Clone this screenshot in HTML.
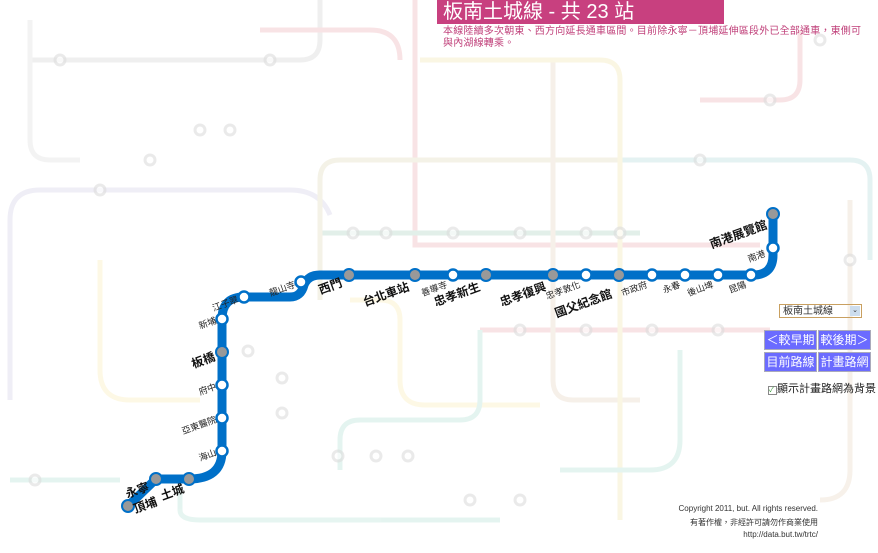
<!DOCTYPE html>
<html><head><meta charset="utf-8"><style>
body{margin:0;width:878px;height:553px;overflow:hidden;background:#fff;font-family:"Liberation Sans","Noto Sans CJK TC",sans-serif;position:relative}
.t{position:absolute;left:437px;top:0;width:287px;height:24px;background:#c8407f;color:#fff;font-size:20px;line-height:24px;padding-left:6px;box-sizing:border-box}
.s{position:absolute;left:443px;top:26px;width:428px;font-size:10px;line-height:12px;color:#c0407a;letter-spacing:0.2px}
.b{position:absolute;background:#6b6bff;color:#fff;font-size:12px;line-height:18px;height:18px;width:51px;text-align:center;border:1px solid #aab}
.sel{position:absolute;left:779px;top:304px;width:83px;height:14px;border:1px solid #c9a060;font-size:10px;line-height:14px;color:#333;padding-left:3px;box-sizing:border-box}
.cp{position:absolute;right:60px;font-size:8px;color:#333;text-align:right}
</style></head><body>
<svg width="878" height="553" style="position:absolute;left:0;top:0" font-family="Liberation Sans,Noto Sans CJK TC,sans-serif">
<g fill="none" stroke-width="5" opacity="0.13">
<path d="M415 0V245H760" stroke="#d03040"/>
<path d="M320 233H640" stroke="#2a8a60"/>
<path d="M480 330H770" stroke="#d03040"/>
<path d="M320 0V40Q320 60 300 60H30" stroke="#888"/>
<path d="M10 400V220Q10 190 40 190H290Q320 190 330 215" stroke="#8880c0"/>
<path d="M320 300V180Q320 160 340 160H620" stroke="#b0a050"/>
<path d="M620 160H850Q870 160 870 180V260" stroke="#3aa0a0"/>
<path d="M553 60V380Q553 400 573 400H640" stroke="#c09060"/>
<path d="M420 60H600Q620 60 620 80V520" stroke="#e0c030"/>
<path d="M350 300H380Q400 300 400 320V380Q400 405 425 405H540" stroke="#f0d040"/>
<path d="M480 330V400Q480 420 460 420H360Q340 420 340 440V470" stroke="#3ab090"/>
<path d="M10 480H120" stroke="#3ab090"/>
<path d="M180 490V510Q180 520 200 520H500" stroke="#3ab090"/>
<path d="M100 260V370Q100 400 130 400H200" stroke="#f0d040"/>
<path d="M700 100H780Q800 100 800 80V30" stroke="#d03040"/>
<path d="M850 200V470Q850 500 820 500" stroke="#c09060"/>
<path d="M680 350V440Q680 470 650 470H560" stroke="#3ab090"/>
<path d="M30 20V140Q30 160 50 160H80" stroke="#aaa"/>
<path d="M400 60Q400 30 370 30H260" stroke="#d03040"/>
</g>
<g fill="#fff" stroke="#ddd" stroke-width="3" opacity="0.6">
<circle cx="353" cy="233" r="5"/><circle cx="386" cy="233" r="5"/><circle cx="453" cy="233" r="5"/><circle cx="520" cy="233" r="5"/><circle cx="586" cy="233" r="5"/><circle cx="620" cy="233" r="5"/>
<circle cx="520" cy="330" r="5"/><circle cx="586" cy="330" r="5"/><circle cx="652" cy="330" r="5"/><circle cx="718" cy="330" r="5"/>
<circle cx="248" cy="351" r="5"/><circle cx="282" cy="378" r="5"/><circle cx="282" cy="413" r="5"/><circle cx="338" cy="456" r="5"/><circle cx="376" cy="456" r="5"/><circle cx="408" cy="456" r="5"/>
<circle cx="200" cy="130" r="5"/><circle cx="230" cy="130" r="5"/><circle cx="270" cy="60" r="5"/><circle cx="60" cy="60" r="5"/><circle cx="100" cy="190" r="5"/><circle cx="150" cy="160" r="5"/>
<circle cx="700" cy="160" r="5"/><circle cx="770" cy="100" r="5"/><circle cx="820" cy="40" r="5"/><circle cx="850" cy="260" r="5"/><circle cx="35" cy="480" r="5"/><circle cx="470" cy="500" r="5"/><circle cx="520" cy="500" r="5"/>
</g>
<path d="M128 506L156 479H189Q222 479 222 451V319Q222 297 244 297H290Q301 297 304 285Q308 275 320 275H753Q773 275 773 255V214" fill="none" stroke="#0070c8" stroke-width="9" stroke-linejoin="round"/>
<g stroke="#0070c8" stroke-width="2.5" fill="#fff">
<circle cx="222" cy="451" r="5.5"/><circle cx="222" cy="418" r="5.5"/><circle cx="222" cy="385" r="5.5"/><circle cx="222" cy="319" r="5.5"/><circle cx="244" cy="297" r="5.5"/><circle cx="301" cy="282" r="5.5"/><circle cx="453" cy="275" r="5.5"/><circle cx="586" cy="275" r="5.5"/><circle cx="652" cy="275" r="5.5"/><circle cx="685" cy="275" r="5.5"/><circle cx="718" cy="275" r="5.5"/><circle cx="751" cy="275" r="5.5"/><circle cx="773" cy="248" r="5.5"/>
</g>
<g stroke="#0070c8" stroke-width="2" fill="#999">
<circle cx="128" cy="506" r="6"/><circle cx="156" cy="479" r="6"/><circle cx="189" cy="479" r="6"/><circle cx="222" cy="352" r="6"/><circle cx="349" cy="275" r="6"/><circle cx="415" cy="275" r="6"/><circle cx="486" cy="275" r="6"/><circle cx="553" cy="275" r="6"/><circle cx="619" cy="275" r="6"/><circle cx="773" cy="214" r="6"/>
</g>
<g fill="#222" text-anchor="end" font-size="9">
<text transform="translate(217,455) rotate(-20)">海山</text>
<text transform="translate(217,422) rotate(-20)">亞東醫院</text>
<text transform="translate(217,389) rotate(-20)">府中</text>
<text transform="translate(217,323) rotate(-20)">新埔</text>
<text transform="translate(239,302) rotate(-20)">江子翠</text>
<text transform="translate(296,287) rotate(-20)">龍山寺</text>
<text transform="translate(448,287) rotate(-20)">善導寺</text>
<text transform="translate(766,256) rotate(-20)">南港</text>
<text transform="translate(747,287) rotate(-20)">昆陽</text>
<text transform="translate(714,287) rotate(-20)">後山埤</text>
<text transform="translate(681,287) rotate(-20)">永春</text>
<text transform="translate(648,287) rotate(-20)">市政府</text>
<text transform="translate(581,287) rotate(-20)">忠孝敦化</text>
</g>
<g fill="#111" text-anchor="end" font-size="12" font-weight="bold">
<text transform="translate(150,490) rotate(-20)">永寧</text>
<text transform="translate(158,505) rotate(-20)">頂埔</text>
<text transform="translate(185,492) rotate(-20)">土城</text>
<text transform="translate(216,360) rotate(-20)">板橋</text>
<text transform="translate(343,286) rotate(-20)">西門</text>
<text transform="translate(410,290) rotate(-20)">台北車站</text>
<text transform="translate(481,290) rotate(-20)">忠孝新生</text>
<text transform="translate(547,290) rotate(-20)">忠孝復興</text>
<text transform="translate(613,297) rotate(-20)">國父紀念館</text>
<text transform="translate(768,228) rotate(-20)">南港展覽館</text>
</g>
</svg>
<div class="t">板南土城線 - 共 23 站</div>
<div class="s">本線陸續多次朝東、西方向延長通車區間。目前除永寧－頂埔延伸區段外已全部通車，東側可與內湖線轉乘。</div>
<div class="sel">板南土城線<span style="position:absolute;right:1px;top:1px;width:10px;height:10px;background:#cde;font-size:7px;line-height:10px;text-align:center">⌄</span></div>
<div class="b" style="left:764px;top:330px">＜較早期</div>
<div class="b" style="left:818px;top:330px">較後期＞</div>
<div class="b" style="left:764px;top:352px">目前路線</div>
<div class="b" style="left:818px;top:352px">計畫路網</div>
<div style="position:absolute;left:768px;top:380px;font-size:11px;color:#222"><span style="display:inline-block;width:7px;height:7px;border:1px solid #888;font-size:7px;line-height:7px;color:#393">✓</span>顯示計畫路網為背景</div>
<div class="cp" style="top:504px">Copyright 2011, but. All rights reserved.</div>
<div class="cp" style="top:517px">有著作權，非經許可請勿作商業使用</div>
<div class="cp" style="top:530px">http://data.but.tw/trtc/</div>
</body></html>
